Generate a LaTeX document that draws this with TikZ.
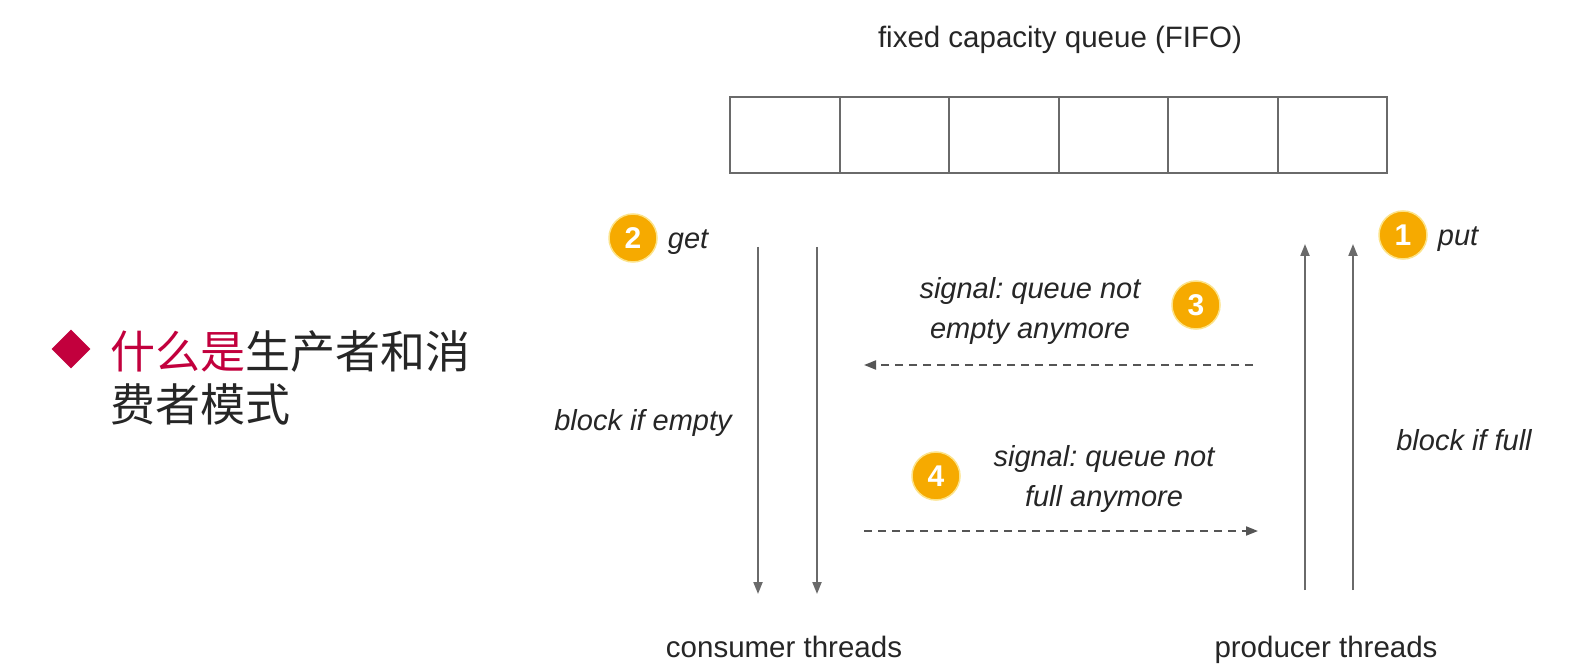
\documentclass[tikz,border=0pt]{standalone}
\usepackage{fontspec}
\setmainfont{Liberation Sans}
\newfontfamily\cjk{Noto Sans CJK SC}
\usetikzlibrary{arrows.meta,positioning,shapes.geometric}
\definecolor{badgeorange}{HTML}{F6AA00}
\definecolor{badgerim}{HTML}{FCE38A}
\definecolor{crimson}{HTML}{C2003D}
\definecolor{textgray}{HTML}{262626}
\definecolor{linegray}{HTML}{6A6A6A}
\frenchspacing

\begin{document}
\begin{tikzpicture}[x=1pt,y=-1pt,>={Triangle[length=12pt,width=9pt]},
  lbl/.style={inner sep=0pt,text=textgray,font=\fontsize{29.5}{34}\selectfont},
  ilbl/.style={lbl,font=\fontsize{29}{40}\selectfont\itshape,align=center},
  badge/.style={circle,fill=badgeorange,draw=badgerim,line width=1.5pt,minimum size=48pt,inner sep=0pt,text=white,font=\fontsize{30}{30}\selectfont\bfseries},
  cell/.style={draw=linegray,line width=2pt,minimum width=109.5pt,minimum height=76pt,inner sep=0pt},
  flow/.style={->,draw=linegray,line width=2pt},
  signal/.style={->,draw=linegray!80!black,line width=1.8pt,dash pattern=on 8pt off 6pt}]
  \useasboundingbox[fill=white] (0,0) rectangle (1580,671);

  % left bullet
  \node[diamond,fill=crimson,minimum size=39pt,inner sep=0pt] (dot) at (71,349) {};
  \node[inner sep=0pt,anchor=north west,align=left,text=textgray,font=\cjk\fontsize{45}{53}\selectfont] (what) at (110,330)
    {{\color{crimson}什么是}生产者和消\\费者模式};

  % queue
  \node[lbl] (title) at (1060,40) {fixed capacity queue (FIFO)};
  \foreach \i in {1,...,6}
    \node[cell] (q\i) at ({675.25+109.5*\i},135) {};

  % consumer side
  \node[badge] (b2) at (633,238) {2};
  \node[ilbl,right=10pt of b2.base east,anchor=base west] (get) {get};
  \coordinate (ctop1) at (758,247); \coordinate (cbot1) at (758,594);
  \coordinate (ctop2) at (817,247); \coordinate (cbot2) at (817,594);
  \draw[flow] (ctop1) -- (cbot1);
  \draw[flow] (ctop2) -- (cbot2);
  \node[ilbl] (empty) at (643,423) {block if empty};
  \node[lbl,anchor=base] (cons) at (784,657) {consumer threads};

  % producer side
  \node[badge] (b1) at (1403,235) {1};
  \node[ilbl,right=10pt of b1.base east,anchor=base west] (put) {put};
  \coordinate (pbot1) at (1305,590); \coordinate (ptop1) at (1305,244);
  \coordinate (pbot2) at (1353,590); \coordinate (ptop2) at (1353,244);
  \draw[flow] (pbot1) -- (ptop1);
  \draw[flow] (pbot2) -- (ptop2);
  \node[ilbl] (full) at (1464,440) {block if full};
  \node[lbl,anchor=base] (prod) at (1326,657) {producer threads};

  % signals
  \node[ilbl] (sig3) at (1030,311) {signal: queue not\\empty anymore};
  \node[badge] (b3) at (1196,305) {3};
  \coordinate (s3from) at (1253,365); \coordinate (s3to) at (864,365);
  \draw[signal] (s3from) -- (s3to);
  \node[ilbl] (sig4) at (1104,479) {signal: queue not\\full anymore};
  \node[badge] (b4) at (936,476) {4};
  \coordinate (s4from) at (864,531); \coordinate (s4to) at (1258,531);
  \draw[signal] (s4from) -- (s4to);
\end{tikzpicture}
\end{document}
